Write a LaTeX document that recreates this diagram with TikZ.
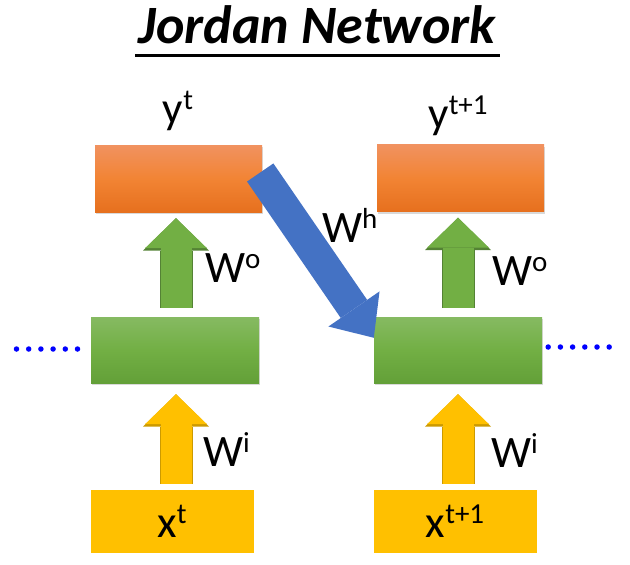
\documentclass[tikz,border=0pt]{standalone}
\usepackage{fontspec}
\setmainfont{Carlito}
\usetikzlibrary{arrows.meta,shadows}
\definecolor{orTop}{RGB}{241,146,96}
\definecolor{orMid}{RGB}{242,132,52}
\definecolor{orBot}{RGB}{230,112,30}
\definecolor{grTop}{RGB}{134,186,98}
\definecolor{grMid}{RGB}{114,175,68}
\definecolor{grBot}{RGB}{99,160,56}
\definecolor{grLine}{RGB}{84,130,53}
\definecolor{ylFill}{RGB}{255,192,0}
\definecolor{ylLine}{RGB}{204,154,0}
\definecolor{blFill}{RGB}{68,114,196}
\newcommand{\upidx}[1]{\raisebox{14pt}{\fontsize{29}{29}\selectfont #1}}
\begin{document}
\begin{tikzpicture}[x=1pt,y=-1pt]
        \tikzstyle{every node}=[inner sep=0pt,font=\fontsize{45}{45}\selectfont];
        \tikzstyle{outbox}=[minimum width=167pt,minimum height=67pt,top color=orTop,bottom color=orBot,middle color=orMid,
            drop shadow={shadow xshift=1pt,shadow yshift=-2pt,opacity=.3}];
        \tikzstyle{hidbox}=[minimum width=168pt,minimum height=66pt,top color=grTop,bottom color=grBot,middle color=grMid,
            drop shadow={shadow xshift=1pt,shadow yshift=-2pt,opacity=.3}];
        \tikzstyle{inbox}=[minimum width=163pt,minimum height=63pt,fill=ylFill];
        \tikzstyle{wout}=[line width=31pt,draw=grMid,-{Triangle[length=30pt,width=62pt,line width=0pt]},
            preaction={draw=grLine,line width=33pt,-{Triangle[length=32.5pt,width=66pt,line width=0pt]}}];
        \tikzstyle{win}=[line width=31pt,draw=ylFill,-{Triangle[length=30pt,width=62pt,line width=0pt]},
            preaction={draw=ylLine,line width=33pt,-{Triangle[length=32.5pt,width=66pt,line width=0pt]}}];
        \tikzstyle{wrec}=[line width=32pt,draw=blFill,-{Triangle[length=35pt,width=62pt,line width=0pt]}];
        \tikzstyle{dots}=[draw=blue,line width=5.5pt,line cap=round,dash pattern=on 0pt off 12.2pt];
        \useasboundingbox (0,0) rectangle (630,565);
        %\node (name) at (x,y) [style] {text};
        \node[font=\fontsize{54}{54}\selectfont\bfseries\itshape,anchor=base] (title) at (317,43) {Jordan Network};
        \draw[line width=3pt] ([xshift=-3pt,yshift=-12pt]title.base west) -- ([xshift=4pt,yshift=-12pt]title.base east);
        % outputs
        \node[outbox] (o1) at (178.5,178.5) {};
        \node[outbox] (o2) at (460.5,178) {};
        \node[anchor=base] (yt) at (178,123) {y\upidx{t}};
        \node[anchor=base] (yt1) at (458,128) {y\upidx{t+1}};
        % hidden
        \node[hidbox] (h1) at (175,350) {};
        \node[hidbox] (h2) at (458,350) {};
        % inputs
        \node[inbox] (x1) at (172,521.5) {x\upidx{t}};
        \node[inbox] (x2) at (455,521.5) {x\upidx{t+1}};
        % weights
        \draw[wout] ([yshift=9pt]h1.north -| 176,0) -- ([yshift=-6pt]o1.south -| 176,0);
        \draw[wout] ([yshift=9pt]h2.north) -- ([yshift=-6pt]o2.south -| h2);
        \draw[win] ([yshift=6pt]x1.north -| 176,0) -- ([yshift=-11pt]h1.south -| 176,0);
        \draw[win] ([yshift=6pt]x2.north -| h2) -- ([yshift=-11pt]h2.south);
        \draw[wrec] ([shift={(-2pt,6pt)}]o1.east) -- ([yshift=-21pt]h2.north west);
        \node[anchor=base west] (wo1) at (205,282) {W\upidx{o}};
        \node[anchor=base west] (wo2) at (492,285) {W\upidx{o}};
        \node[anchor=base west] (wh) at (322,242) {W\upidx{h}};
        \node[anchor=base west] (wi1) at (203,466) {W\upidx{i}};
        \node[anchor=base west] (wi2) at (491,467) {W\upidx{i}};
        % time steps before and after
        \coordinate (left) at (16.5,349);
        \coordinate (right) at (613.5,347);
        \draw[dots] (left) -- ([xshift=-13pt,yshift=1pt]h1.west);
        \draw[dots] ([xshift=6pt,yshift=3pt]h2.east) -- (right);
    \end{tikzpicture}
\end{document}
